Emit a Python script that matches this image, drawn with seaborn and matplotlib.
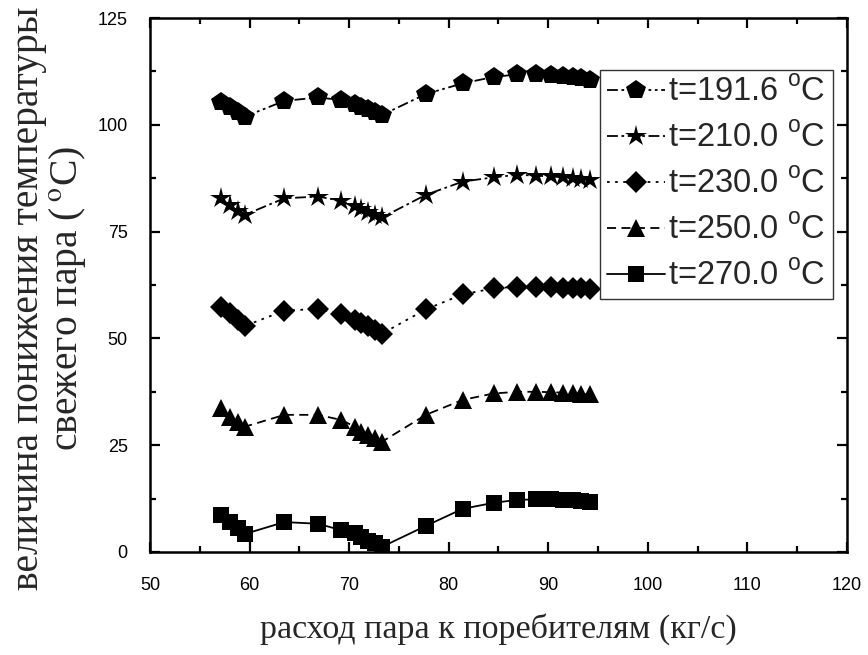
import matplotlib
matplotlib.use("Agg")
import matplotlib.pyplot as plt
from matplotlib.ticker import MultipleLocator
import seaborn as sns
import pandas as pd

# steam flow to consumers, kg/s (shared by all series)
flow = [57.1, 58.0, 58.8, 59.5, 63.5, 66.9, 69.2, 70.6, 71.2, 71.9, 72.6, 73.3,
        77.7, 81.4, 84.5, 86.9, 88.8, 90.3, 91.5, 92.5, 93.3, 94.2]

# temperature drop of live steam, degC, for each initial temperature
drop_191 = [105.4, 104.2, 103.1, 101.9, 105.6, 106.4, 105.8, 104.9, 104.2, 103.6, 103.1, 102.3,
            107.2, 109.7, 111.2, 111.8, 111.9, 111.7, 111.4, 111.2, 110.9, 110.6]
drop_210 = [82.8, 81.2, 79.9, 78.9, 82.8, 83.2, 82.2, 81.0, 80.2, 79.7, 79.0, 78.3,
            83.6, 86.7, 87.7, 88.3, 88.1, 87.9, 87.7, 87.5, 87.2, 87.1]
drop_230 = [57.4, 55.9, 54.3, 52.9, 56.5, 56.9, 55.7, 54.3, 53.7, 52.9, 52.0, 51.1,
            56.8, 60.3, 61.7, 62.1, 62.1, 62.0, 61.9, 61.8, 61.7, 61.6]
drop_250 = [33.6, 31.7, 30.5, 29.3, 32.1, 32.1, 30.9, 29.3, 28.2, 27.4, 26.6, 25.8,
            32.1, 35.6, 37.1, 37.5, 37.5, 37.4, 37.3, 37.1, 37.0, 36.9]
drop_270 = [8.7, 6.9, 5.5, 4.2, 7.0, 6.6, 5.1, 4.4, 3.6, 2.6, 2.0, 1.2,
            6.1, 10.1, 11.5, 12.2, 12.3, 12.3, 12.2, 12.1, 11.9, 11.7]

labels = [r"t=191.6 $^{\mathrm{o}}$C", r"t=210.0 $^{\mathrm{o}}$C", r"t=230.0 $^{\mathrm{o}}$C",
          r"t=250.0 $^{\mathrm{o}}$C", r"t=270.0 $^{\mathrm{o}}$C"]
series = [drop_191, drop_210, drop_230, drop_250, drop_270]

x_ticks = [50, 60, 70, 80, 90, 100, 110, 120]
y_ticks = [0, 25, 50, 75, 100, 125]

sns.set_theme(style="ticks")
plt.rcParams["font.family"] = ["Liberation Sans", "DejaVu Sans"]
plt.rcParams["mathtext.fontset"] = "custom"
plt.rcParams["mathtext.rm"] = "Liberation Sans"

styles = [
    dict(marker="p", markersize=15, linestyle=(0, (6, 2, 1.5, 2, 1.5, 2))),
    dict(marker="*", markersize=16, linestyle=(0, (6, 2, 1.5, 2))),
    dict(marker="D", markersize=11, linestyle=(0, (1.5, 3))),
    dict(marker="^", markersize=13, linestyle=(0, (5, 3))),
    dict(marker="s", markersize=11, linestyle="-"),
]

fig = plt.figure(figsize=(8.68, 6.55), dpi=100)
ax = fig.add_axes([0.1728, 0.1573, 0.8030, 0.8152])

for lab, vals, st in zip(labels, series, styles):
    df = pd.DataFrame({"flow": flow, "drop": vals})
    sns.lineplot(data=df, x="flow", y="drop", ax=ax, color="black", linewidth=1.3,
                 markeredgewidth=0, label=lab, sort=False, estimator=None, **st)

ax.set_xlim(50, 120)
ax.set_ylim(0, 125)
ax.set_xticks(x_ticks)
ax.set_yticks(y_ticks)
ax.xaxis.set_minor_locator(MultipleLocator(5))
ax.yaxis.set_minor_locator(MultipleLocator(12.5))
ax.tick_params(which="both", direction="in", top=True, right=True, width=1.6, colors="black",
               labelsize=13)
ax.tick_params(which="major", length=7)
ax.tick_params(which="minor", length=4)
ax.tick_params(axis="x", which="major", pad=18)
ax.tick_params(axis="y", which="major", pad=16)
for s in ax.spines.values():
    s.set_linewidth(1.8)
    s.set_color("black")

ax.set_xlabel("расход пара к поребителям (кг/с)", family="Liberation Serif", fontsize=24.5,
              labelpad=14)
ax.set_ylabel("величина понижения температуры\n" + r"свежего пара ($\,^{\mathrm{o}}$C)",
              family="Liberation Serif", fontsize=28.5, math_fontfamily="stix", linespacing=1.0)
ax.yaxis.set_label_coords(-0.089, 0.475)

leg = ax.legend(loc="upper left", bbox_to_anchor=(0.646, 0.903), frameon=True, fancybox=False,
                framealpha=1, edgecolor="#333333", fontsize=23.5, handlelength=1.75,
                handletextpad=0.12, labelspacing=0.46, borderpad=0.22, borderaxespad=0)
leg.get_frame().set_linewidth(1.0)

fig.savefig("out.png", dpi=100)
